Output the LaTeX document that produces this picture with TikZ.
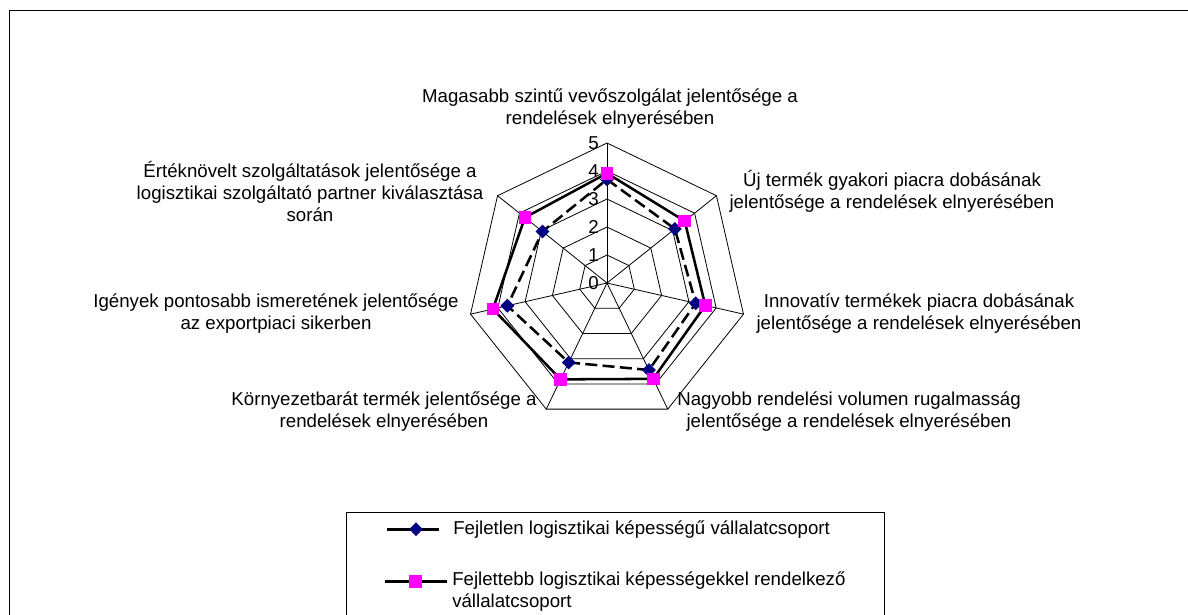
\documentclass[tikz,border=0pt]{standalone}
\usepackage{fontspec}
\setmainfont{Liberation Sans}
\usetikzlibrary{shapes.geometric}
\definecolor{navyc}{HTML}{000080}
\definecolor{magc}{HTML}{FF00FF}
\begin{document}
\begin{tikzpicture}[x=0.75pt,y=-0.75pt,
  lbl/.style={align=center,inner sep=0pt,font=\fontsize{14}{16.5}\selectfont},
  tick/.style={anchor=east,inner sep=0pt,font=\fontsize{14}{16.5}\selectfont},
  gridline/.style={draw=black,line width=0.6pt},
  ser1/.style={draw=black,line width=1.9pt,dash pattern=on 9pt off 4pt},
  ser2/.style={draw=black,line width=1.9pt},
  dmark/.style={diamond,fill=navyc,inner sep=0pt,minimum size=10.5pt},
  smark/.style={rectangle,fill=magc,inner sep=0pt,minimum size=9.5pt},
  frame/.style={draw=black,line width=0.75pt}]
\useasboundingbox (0,0) rectangle (1188,614);
\clip (0,0) rectangle (1188,614);
\fill[white] (0,0) rectangle (1188,614);
\draw[frame] (9.5,10.5) rectangle (1200,630);
% centre
\coordinate (C) at (607,283);
% grid coordinates
\foreach \k in {1,...,5}{
  \foreach \i in {0,...,6}{
    \coordinate (g\k-\i) at ({607+28*\k*cos(90-360/7*\i)},{283-28*\k*sin(90-360/7*\i)});
  }
  \draw[gridline] (g\k-0) -- (g\k-1) -- (g\k-2) -- (g\k-3) -- (g\k-4) -- (g\k-5) -- (g\k-6) -- cycle;
}
\foreach \i in {0,...,6}{ \draw[gridline] (C) -- (g5-\i); }
% tick labels
\foreach \k in {0,...,5}{ \node[tick] (t\k) at (599,{283-28*\k}) {\k}; }
% series data
\foreach \v [count=\i from 0] in {3.7,3.1,3.25,3.45,3.15,3.65,2.95}{
  \coordinate (a\i) at ({607+28*\v*cos(90-360/7*\i)},{283-28*\v*sin(90-360/7*\i)});
}
\foreach \v [count=\i from 0] in {3.92,3.55,3.6,3.8,3.82,4.18,3.75}{
  \coordinate (b\i) at ({607+28*\v*cos(90-360/7*\i)},{283-28*\v*sin(90-360/7*\i)});
}
\draw[ser1] (a0) -- (a1) -- (a2) -- (a3) -- (a4) -- (a5) -- (a6) -- cycle;
\draw[ser2] (b0) -- (b1) -- (b2) -- (b3) -- (b4) -- (b5) -- (b6) -- cycle;
\foreach \i in {0,...,6}{ \node[dmark] (da\i) at (a\i) {}; }
\foreach \i in {0,...,6}{ \node[smark] (sb\i) at (b\i) {}; }
% axis labels
\node[lbl] (L0) at (610,109) {Magasabb szintű vevőszolgálat jelentősége a\\rendelések elnyerésében};
\node[lbl] (L1) at (892,191.5) {Új termék gyakori piacra dobásának\\jelentősége a rendelések elnyerésében};
\node[lbl] (L2) at (919,313.5) {Innovatív termékek piacra dobásának\\jelentősége a rendelések elnyerésében};
\node[lbl] (L3) at (849,411.5) {Nagyobb rendelési volumen rugalmasság\\jelentősége a rendelések elnyerésében};
\node[lbl] (L4) at (384,411.5) {Környezetbarát termék jelentősége a\\rendelések elnyerésében};
\node[lbl] (L5) at (276,313.5) {Igények pontosabb ismeretének jelentősége\\az exportpiaci sikerben};
\node[lbl] (L6) at (310,191.5) {Értéknövelt szolgáltatások jelentősége a\\logisztikai szolgáltató partner kiválasztása\\során};
% legend
\draw[frame] (346.7,512.7) rectangle (884,640);
\coordinate (l1a) at (386.7,529.3);
\coordinate (l1b) at (439.3,529.3);
\coordinate (l2a) at (385,581.5);
\coordinate (l2b) at (446.7,581.5);
\draw[ser2] (l1a) -- (l1b);
\draw[ser2] (l2a) -- (l2b);
\node[dmark] (ld1) at (416,529.3) {};
\node[smark] (ls2) at (415.3,581.5) {};
\node[lbl,anchor=west,align=left] (lt1) at (453,529.3) {Fejletlen logisztikai képességű vállalatcsoport};
\node[lbl,anchor=north west,align=left] (lt2) at (452,571) {Fejlettebb logisztikai képességekkel rendelkező\\vállalatcsoport};
\end{tikzpicture}
\end{document}
